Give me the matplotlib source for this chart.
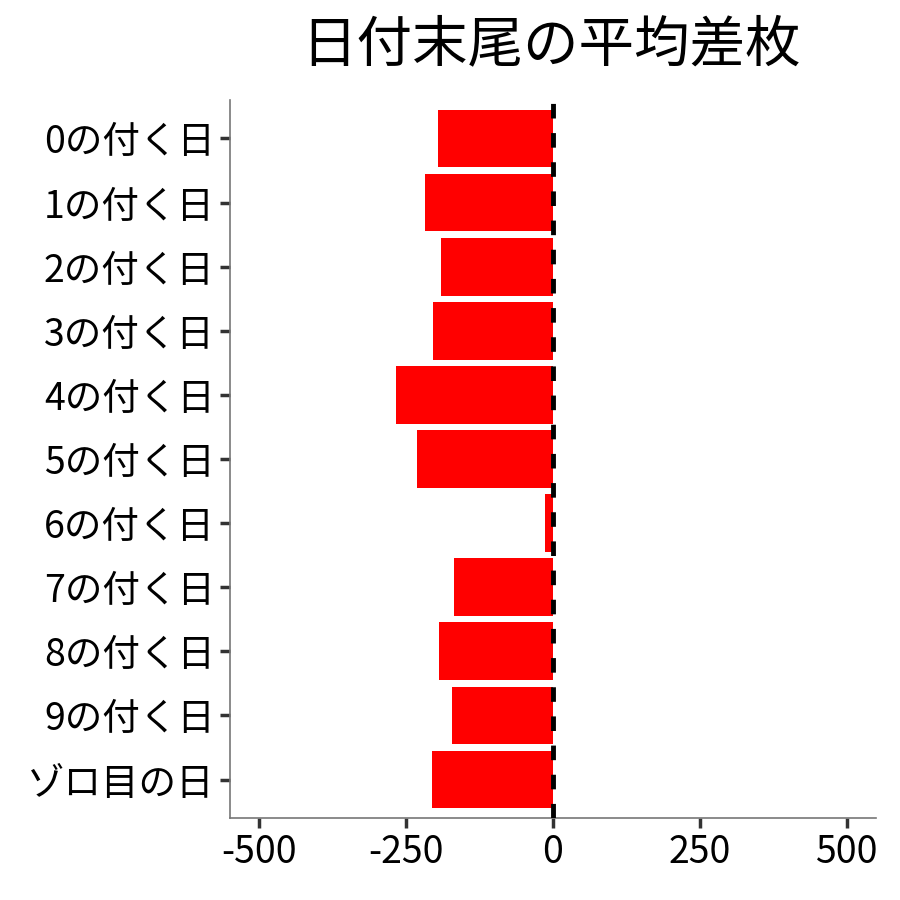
import matplotlib
matplotlib.use('Agg')
import matplotlib.pyplot as plt

plt.rcParams['font.family'] = ['Noto Sans CJK JP', 'DejaVu Sans']

# data
categories = ['0の付く日', '1の付く日', '2の付く日', '3の付く日', '4の付く日',
              '5の付く日', '6の付く日', '7の付く日', '8の付く日', '9の付く日', 'ゾロ目の日']
avg_diff = [-196, -218, -190, -204, -267, -231, -14, -168, -194, -172, -206]
xticks = [-500, -250, 0, 250, 500]

fig = plt.figure(figsize=(9, 9), dpi=100)
ax = fig.add_axes([0.2556, 0.0911, 0.7178, 0.7978])

ypos = list(range(len(categories)))[::-1]
ax.barh(ypos, avg_diff, height=0.9, color='#ff0000', zorder=2)
ax.axvline(0, color='black', linestyle=(0, (3, 3)), linewidth=3.5, zorder=3)

ax.set_xlim(-550, 550)
ax.set_ylim(-0.6, 10.6)
ax.set_yticks(ypos)
ax.set_yticklabels(categories)
ax.set_xticks(xticks)
ax.set_xticklabels([str(t) for t in xticks])

ax.tick_params(axis='both', labelsize=27, colors='#333333', length=7, width=2.5,
               labelcolor='black', pad=4)
for s in ['top', 'right']:
    ax.spines[s].set_visible(False)
for s in ['left', 'bottom']:
    ax.spines[s].set_color('#777777')
    ax.spines[s].set_linewidth(1.2)

fig.text(0.612, 0.95, '日付末尾の平均差枚', fontsize=40, ha='center', va='center')

fig.savefig('out.png', dpi=100)
